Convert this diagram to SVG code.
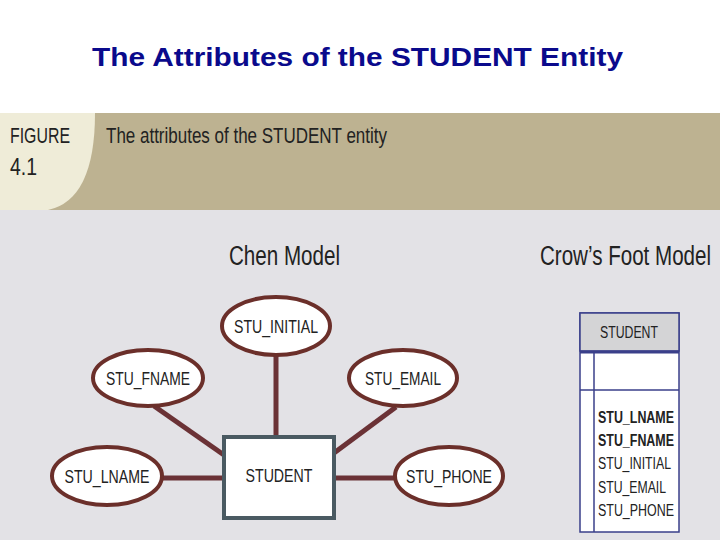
<svg xmlns="http://www.w3.org/2000/svg" width="720" height="540" viewBox="0 0 720 540">
<style>
.attr ellipse{fill:#fff;stroke:#6b2f2a;stroke-width:4}
.lbl{font-family:"Liberation Sans",sans-serif;font-size:19px;fill:#222;text-anchor:middle}
.conn line{stroke:#6b3236;stroke-width:5}
.cf{font-family:"Liberation Sans",sans-serif;font-size:16px;fill:#222}
.nar{font-family:"Liberation Sans",sans-serif;fill:#222}
</style>
<rect width="720" height="540" fill="#fff"/>
<text x="92" y="66" textLength="531" lengthAdjust="spacingAndGlyphs" font-family="Liberation Sans,sans-serif" font-size="25" font-weight="bold" fill="#0a0a8c">The Attributes of the STUDENT Entity</text>
<rect x="0" y="113" width="720" height="427" fill="#e3e2e6"/>
<rect x="0" y="113" width="720" height="97" fill="#bdb291"/>
<path d="M0 113 H95 Q95 200 48 210 H0 Z" fill="#efecd8"/>
<text class="nar" x="10" y="143" font-size="22" textLength="60" lengthAdjust="spacingAndGlyphs">FIGURE</text>
<text class="nar" x="10" y="175" font-size="24" textLength="27" lengthAdjust="spacingAndGlyphs">4.1</text>
<text class="nar" x="106" y="143" font-size="22" textLength="281" lengthAdjust="spacingAndGlyphs">The attributes of the STUDENT entity</text>
<text class="nar" x="229" y="265" font-size="27" textLength="111" lengthAdjust="spacingAndGlyphs">Chen Model</text>
<text class="nar" x="540" y="265" font-size="27" textLength="171" lengthAdjust="spacingAndGlyphs">Crow’s Foot Model</text>
<g class="conn">
<line x1="276" y1="355" x2="276" y2="437"/>
<line x1="154" y1="406" x2="224" y2="455"/>
<line x1="396" y1="407" x2="334" y2="453"/>
<line x1="162" y1="478" x2="224" y2="478"/>
<line x1="334" y1="478" x2="395" y2="478"/>
</g>
<g id="student">
<rect x="224" y="437" width="110" height="81" fill="#fff" stroke="#4a5a62" stroke-width="4"/>
<text class="lbl" x="279" y="482" textLength="67" lengthAdjust="spacingAndGlyphs">STUDENT</text>
</g>
<g id="stu_initial" class="attr"><ellipse cx="276" cy="326" rx="54" ry="29"/><text class="lbl" x="276" y="333" textLength="84" lengthAdjust="spacingAndGlyphs">STU_INITIAL</text></g>
<g id="stu_fname" class="attr"><ellipse cx="148" cy="378" rx="55" ry="28"/><text class="lbl" x="148" y="385" textLength="84" lengthAdjust="spacingAndGlyphs">STU_FNAME</text></g>
<g id="stu_email" class="attr"><ellipse cx="403" cy="378" rx="54" ry="28"/><text class="lbl" x="403" y="385" textLength="76" lengthAdjust="spacingAndGlyphs">STU_EMAIL</text></g>
<g id="stu_lname" class="attr"><ellipse cx="107" cy="476" rx="55" ry="29"/><text class="lbl" x="107" y="483" textLength="85" lengthAdjust="spacingAndGlyphs">STU_LNAME</text></g>
<g id="stu_phone" class="attr"><ellipse cx="449" cy="476" rx="54" ry="29"/><text class="lbl" x="449" y="483" textLength="86" lengthAdjust="spacingAndGlyphs">STU_PHONE</text></g>
<g id="cf_student">
<rect x="580" y="313" width="99" height="219" fill="#fff" stroke="#3a3f8a" stroke-width="1.5"/>
<rect x="580" y="313" width="99" height="38" fill="#d4d4d6" stroke="#3a3f8a" stroke-width="1.5"/>
<line x1="580" y1="352" x2="679" y2="352" stroke="#3a3f8a" stroke-width="3"/>
<line x1="580" y1="390" x2="679" y2="390" stroke="#3a3f8a" stroke-width="1.5"/>
<line x1="594" y1="352" x2="594" y2="532" stroke="#3a3f8a" stroke-width="1.5"/>
<text class="cf" x="600" y="338" textLength="58" lengthAdjust="spacingAndGlyphs">STUDENT</text>
<text class="cf" x="598" y="423" font-weight="bold" textLength="76" lengthAdjust="spacingAndGlyphs">STU_LNAME</text>
<text class="cf" x="598" y="446" font-weight="bold" textLength="76" lengthAdjust="spacingAndGlyphs">STU_FNAME</text>
<text class="cf" x="598" y="469" textLength="73" lengthAdjust="spacingAndGlyphs">STU_INITIAL</text>
<text class="cf" x="598" y="493" textLength="68" lengthAdjust="spacingAndGlyphs">STU_EMAIL</text>
<text class="cf" x="598" y="516" textLength="76" lengthAdjust="spacingAndGlyphs">STU_PHONE</text>
</g>
</svg>
